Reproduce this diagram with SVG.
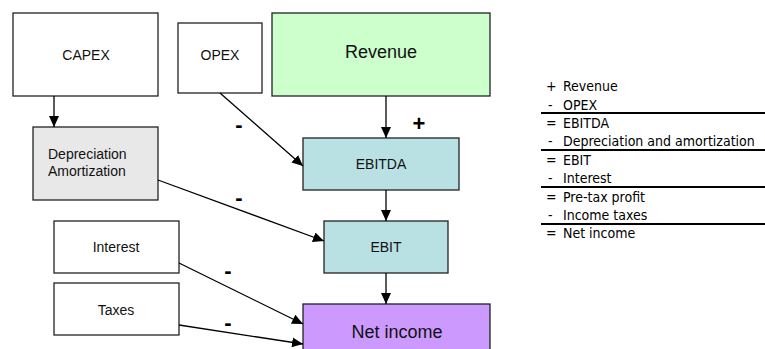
<svg xmlns="http://www.w3.org/2000/svg" width="765" height="349" viewBox="0 0 765 349">
<defs>
<marker id="ah" markerUnits="userSpaceOnUse" markerWidth="12" markerHeight="10" refX="11" refY="5" orient="auto">
<path d="M0,0 L11,5 L0,10 Z" fill="#000"/>
</marker>
<style>
.box{stroke:#222;stroke-width:1.3}
.lbl{font-family:"Liberation Sans",Arial,sans-serif;font-size:14px;fill:#111;text-anchor:middle}
.big{font-size:18px}
.sign{font-family:"Liberation Sans",Arial,sans-serif;font-size:22px;font-weight:bold;fill:#000;text-anchor:middle}
.conn{stroke:#000;stroke-width:1.3;fill:none;marker-end:url(#ah)}
.tbl{font-family:"DejaVu Sans Condensed","DejaVu Sans",Tahoma,sans-serif;font-stretch:condensed;font-size:14px;fill:#000}
.rule{stroke:#000;stroke-width:2}
</style>
</defs>
<rect width="765" height="349" fill="#fff"/>
<g id="capex"><rect class="box" x="13" y="13" width="145" height="83" fill="#fff"/><text class="lbl" x="86" y="60">CAPEX</text></g>
<g id="opex"><rect class="box" x="178" y="23" width="84" height="70" fill="#fff"/><text class="lbl" x="220" y="60">OPEX</text></g>
<g id="revenue"><rect class="box" x="272" y="13" width="218" height="83" fill="#ccffcc"/><text class="lbl big" x="381" y="58">Revenue</text></g>
<g id="depreciation"><rect class="box" x="33" y="127" width="125" height="73" fill="#e8e8e8"/><text class="lbl" style="text-anchor:start" x="48" y="159">Depreciation</text><text class="lbl" style="text-anchor:start" x="48" y="176">Amortization</text></g>
<g id="ebitda"><rect class="box" x="303" y="138" width="156" height="52" fill="#b9e0e3"/><text class="lbl" x="381" y="169">EBITDA</text></g>
<g id="ebit"><rect class="box" x="324" y="221" width="124" height="52" fill="#b9e0e3"/><text class="lbl" x="386" y="252">EBIT</text></g>
<g id="interest"><rect class="box" x="54" y="221" width="125" height="52" fill="#fff"/><text class="lbl" x="116" y="252">Interest</text></g>
<g id="taxes"><rect class="box" x="54" y="283" width="125" height="52" fill="#fff"/><text class="lbl" x="116" y="315">Taxes</text></g>
<g id="netincome"><rect class="box" x="303" y="304" width="187" height="60" fill="#cc99ff"/><text class="lbl big" x="397" y="338">Net income</text></g>
<g id="connectors">
<line class="conn" x1="54" y1="96" x2="54" y2="127"/>
<line class="conn" x1="386" y1="96" x2="386" y2="138"/>
<line class="conn" x1="220" y1="93" x2="303" y2="166"/>
<line class="conn" x1="386" y1="190" x2="386" y2="221"/>
<line class="conn" x1="158" y1="180" x2="324" y2="241"/>
<line class="conn" x1="386" y1="273" x2="386" y2="304"/>
<line class="conn" x1="179" y1="263" x2="303" y2="324"/>
<line class="conn" x1="179" y1="325" x2="303" y2="344"/>
</g>
<g id="signs">
<text class="sign" x="419" y="131">+</text>
<text class="sign" x="239" y="132">-</text>
<text class="sign" x="239" y="205">-</text>
<text class="sign" x="228" y="278">-</text>
<text class="sign" x="228" y="330">-</text>
</g>
<g id="table">
<text class="tbl" x="546" y="91">+</text><text class="tbl" x="563" y="91">Revenue</text>
<text class="tbl" x="548" y="110">-</text><text class="tbl" x="563" y="110">OPEX</text>
<line class="rule" x1="541" y1="113" x2="765" y2="113"/>
<text class="tbl" x="546" y="128">=</text><text class="tbl" x="563" y="128">EBITDA</text>
<text class="tbl" x="548" y="146">-</text><text class="tbl" x="563" y="146">Depreciation and amortization</text>
<line class="rule" x1="541" y1="150" x2="765" y2="150"/>
<text class="tbl" x="546" y="165">=</text><text class="tbl" x="563" y="165">EBIT</text>
<text class="tbl" x="548" y="183">-</text><text class="tbl" x="563" y="183">Interest</text>
<line class="rule" x1="541" y1="187" x2="765" y2="187"/>
<text class="tbl" x="546" y="202">=</text><text class="tbl" x="563" y="202">Pre-tax profit</text>
<text class="tbl" x="548" y="220">-</text><text class="tbl" x="563" y="220">Income taxes</text>
<line class="rule" x1="541" y1="224" x2="765" y2="224"/>
<text class="tbl" x="546" y="238">=</text><text class="tbl" x="563" y="238">Net income</text>
</g>
</svg>
